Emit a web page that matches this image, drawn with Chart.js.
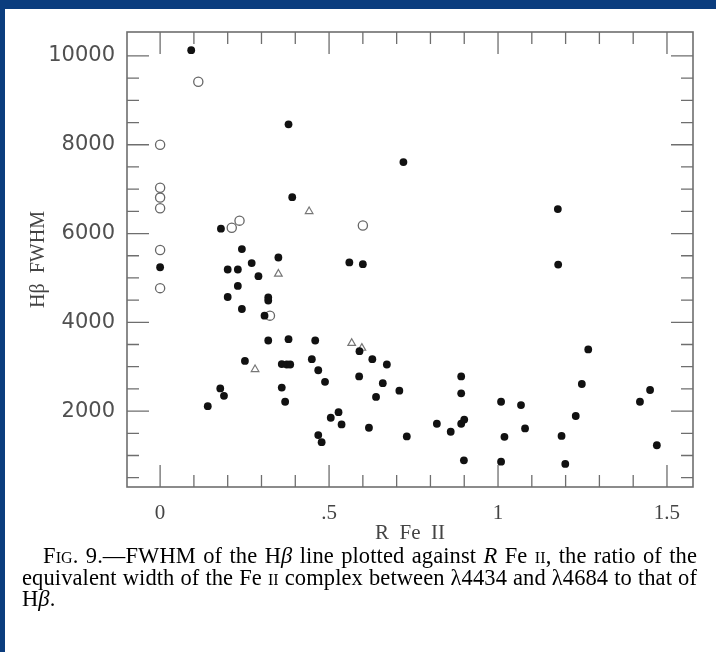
<!DOCTYPE html>
<html>
<head>
<meta charset="utf-8">
<script src="https://cdn.jsdelivr.net/npm/chart.js@4/dist/chart.umd.min.js"></script>
<style>
  html, body { margin: 0; padding: 0; background: #fff; }
  #page { position: relative; width: 716px; height: 652px; overflow: hidden; background: #fff; }
  #page:before { content: ''; position: absolute; left: 0; top: 0; right: 0; height: 9px; background: #0b3d7e; z-index: 2; }
  #page:after { content: ''; position: absolute; left: 0; top: 0; bottom: 0; width: 5px; background: #0b3d7e; z-index: 2; }
  #wrap { position: absolute; left: 0; top: 0; width: 716px; height: 550px; }
  #caption { position: absolute; left: 22px; top: 545px; width: 675px;
             font-family: "Liberation Serif", "Times New Roman", serif; font-size: 22.5px;
             letter-spacing: 0.1px; line-height: 21.5px; color: #000; }
  #caption div { text-align: justify; text-align-last: justify; white-space: nowrap; }
  #caption div.last { text-align-last: left; }
  .sc { font-variant: small-caps; }
</style>
</head>
<body>
<div id="page">
  <div id="wrap"><canvas id="fig9" width="716" height="550"></canvas></div>
  <div id="caption">
    <div style="padding-left:21px">F<span class="sc">ig</span>. 9.—FWHM of the H<i>β</i> line plotted against <i>R</i> Fe <span class="sc">ii</span>, the ratio of the</div>
    <div>equivalent width of the Fe <span class="sc">ii</span> complex between λ4434 and λ4684 to that of</div>
    <div class="last">H<i>β</i>.</div>
  </div>
</div>
<script>
// R Fe II vs H-beta FWHM (km/s)
var filledX = [0.092, 0.380, 0.391, 0.180, 0.720, 1.177, 0.000, 0.242, 0.350, 0.200,
               0.230, 0.271, 0.291, 0.230, 0.200, 0.320, 0.320, 0.242, 0.309, 0.320,
               0.380, 0.459, 0.251, 0.360, 0.375, 0.385, 0.449, 0.468, 0.488, 0.360,
               0.370, 0.178, 0.189, 0.141, 0.505, 0.468, 0.478, 0.560, 0.600, 0.590,
               0.628, 0.671, 0.589, 0.659, 0.708, 0.639, 0.528, 0.537, 0.618, 0.730,
               0.891, 0.891, 0.819, 0.860, 0.891, 0.900, 0.899, 1.009, 1.019, 1.009,
               1.178, 1.267, 1.248, 1.068, 1.080, 1.188, 1.230, 1.199, 1.420, 1.450,
               1.470];
var filledY = [10130, 8460, 6820, 6110, 7610, 6550, 5240, 5650, 5460, 5190,
               5190, 5335, 5040, 4820, 4570, 4560, 4490, 4300, 4150, 3590,
               3620, 3590, 3130, 3060, 3050, 3050, 3170, 2920, 2660, 2530,
               2210, 2510, 2345, 2110, 1850, 1460, 1300, 5350, 5310, 3350,
               3170, 3050, 2780, 2630, 2460, 2320, 1975, 1700, 1625, 1430,
               2780, 2400, 1715, 1535, 1715, 1810, 890, 2210, 1420, 860,
               5300, 3390, 2610, 2135, 1610, 1440, 1890, 810, 2210, 2475,
               1230];

var openX = [0.000, 0.000, 0.000, 0.000, 0.000, 0.000, 0.113, 0.212, 0.235, 0.325, 0.600];
var openY = [8000, 7030, 6810, 6570, 5630, 4770, 9420, 6130, 6290, 4150, 6180];

var triX = [0.441, 0.350, 0.281, 0.567, 0.597];
var triY = [6500, 5090, 2940, 3530, 3420];

var xLabels = [0, 0.5, 1, 1.5];
var yLabels = [2000, 4000, 6000, 8000, 10000];

var xTitle = 'R  Fe  II';
var yTitle = 'Hβ  FWHM';

function pts(xs, ys) {
    return xs.map(function (v, i) { return { x: v, y: ys[i] }; });
}

// box round the plot with inward ticks on all four sides
var frame = {
    id: 'frame',
    beforeDatasetsDraw: function (chart) {
        var ctx = chart.ctx, a = chart.chartArea;
        var xs = chart.scales.x, ys = chart.scales.y;
        ctx.save();
        ctx.strokeStyle = '#6e6e6e';
        ctx.lineWidth = 1.6;
        ctx.strokeRect(a.left, a.top, a.right - a.left, a.bottom - a.top);

        ctx.lineWidth = 1.3;
        ctx.beginPath();
        var k, p, len;
        for (k = Math.ceil(xs.min / 0.1); k <= Math.floor(xs.max / 0.1); k++) {
            p = xs.getPixelForValue(k * 0.1);
            len = (k % 5 === 0) ? 22 : 12;
            ctx.moveTo(p, a.bottom); ctx.lineTo(p, a.bottom - len);
            ctx.moveTo(p, a.top); ctx.lineTo(p, a.top + len);
        }
        for (k = Math.ceil(ys.min / 500); k * 500 < ys.max - 100; k++) {
            p = ys.getPixelForValue(k * 500);
            len = (k % 4 === 0) ? 22 : 12;
            ctx.moveTo(a.left, p); ctx.lineTo(a.left + len, p);
            ctx.moveTo(a.right, p); ctx.lineTo(a.right - len, p);
        }
        ctx.stroke();
        ctx.restore();
    }
};

new Chart(document.getElementById('fig9'), {
    type: 'scatter',
    data: {
        datasets: [{
            data: pts(filledX, filledY),
            pointStyle: 'circle',
            pointRadius: 3.9,
            backgroundColor: '#111',
            borderColor: '#111',
            borderWidth: 0
        }, {
            data: pts(openX, openY),
            pointStyle: 'circle',
            pointRadius: 4.6,
            backgroundColor: 'rgba(255,255,255,0)',
            borderColor: '#666',
            borderWidth: 1.3
        }, {
            data: pts(triX, triY),
            pointStyle: 'triangle',
            pointRadius: 4.4,
            backgroundColor: 'rgba(255,255,255,0)',
            borderColor: '#777',
            borderWidth: 1.2
        }]
    },
    options: {
        responsive: false,
        animation: false,
        events: [],
        layout: { padding: { top: 32, right: 23, left: 0, bottom: 0 } },
        plugins: { legend: { display: false }, tooltip: { enabled: false } },
        scales: {
            x: {
                type: 'linear',
                min: -0.098,
                max: 1.577,
                grid: { display: false, drawTicks: false },
                border: { display: false },
                afterBuildTicks: function (s) { s.ticks = xLabels.map(function (v) { return { value: v }; }); },
                afterFit: function (s) { s.height = 63; },
                ticks: {
                    padding: 14,
                    color: '#444',
                    font: { family: 'Liberation Serif', size: 21 },
                    callback: function (v) { return String(v).replace(/^0\./, '.'); }
                },
                title: {
                    display: true,
                    text: xTitle,
                    color: '#444',
                    padding: { top: 0, bottom: 4 },
                    font: { family: 'Liberation Serif', size: 21 }
                }
            },
            y: {
                type: 'linear',
                min: 290,
                max: 10540,
                grid: { display: false, drawTicks: false },
                border: { display: false },
                afterBuildTicks: function (s) { s.ticks = yLabels.map(function (v) { return { value: v }; }); },
                afterFit: function (s) { s.width = 127; },
                ticks: {
                    padding: 12,
                    color: '#505050',
                    font: { family: 'DejaVu Sans', size: 21 },
                    callback: function (v) { return String(v); }
                },
                title: {
                    display: true,
                    text: yTitle,
                    color: '#444',
                    padding: { top: 27, bottom: 0 },
                    font: { family: 'Liberation Serif', size: 20 }
                }
            }
        }
    },
    plugins: [frame]
});
</script>
</body>
</html>
